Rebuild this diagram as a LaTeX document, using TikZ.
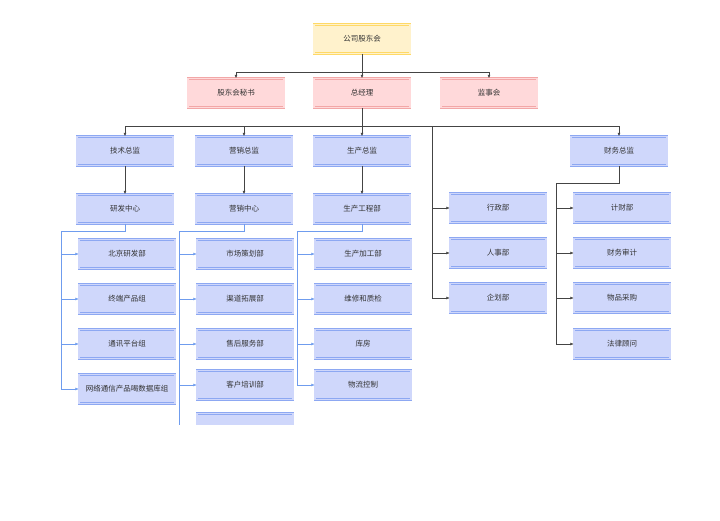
\documentclass[tikz,border=0pt]{standalone}
\usepackage{fontspec}
\setmainfont{Noto Sans CJK SC}
\usetikzlibrary{arrows.meta}
\definecolor{yf}{HTML}{FFF2CC}\definecolor{yb}{HTML}{FFD966}
\definecolor{pf}{HTML}{FFD9DA}\definecolor{pb}{HTML}{F2A7A7}
\definecolor{bf}{HTML}{CFD7FB}\definecolor{bb}{HTML}{8DA8F2}
\definecolor{bl}{HTML}{6F9CEE}\definecolor{gl}{HTML}{444444}
\begin{document}
\begin{tikzpicture}[x=1pt,y=-1pt,
 box/.style={minimum width=96pt,minimum height=29pt,inner sep=0pt,font=\fontsize{7.5}{9}\selectfont,text=black!80,line width=0.5pt,double distance=1.8pt},
 Y/.style={box,draw=yb,double=yf,fill=yf},
 P/.style={box,draw=pb,double=pf,fill=pf},
 B/.style={box,draw=bb,double=bf,fill=bf},
 k/.style={draw=gl,line width=0.6pt},
 ka/.style={k,-{Latex[length=3.5pt,width=3pt]}},
 b/.style={draw=bl,line width=0.6pt},
 ba/.style={b,-{Latex[length=3.5pt,width=3pt]}}]
\useasboundingbox (0,0) rectangle (720,520);
\begin{scope}
\clip (0,0) rectangle (720,424);
\node[Y] (gd) at (362,39) {公司股东会};
\node[P] (ms) at (236,93) {股东会秘书};
\node[P] (zj) at (362,93) {总经理};
\node[P] (js) at (489,93) {监事会};
\node[B] (jz) at (125,151) {技术总监};
\node[B] (yz) at (244,151) {营销总监};
\node[B] (sz) at (362,151) {生产总监};
\node[B] (cz) at (619,151) {财务总监};
\node[B] (yf) at (125,209) {研发中心};
\node[B] (yx) at (244,209) {营销中心};
\node[B] (sc) at (362,209) {生产工程部};
\node[B] (a1) at (127,254) {北京研发部};
\node[B] (a2) at (127,299) {终端产品组};
\node[B] (a3) at (127,344) {通讯平台组};
\node[B] (a4) at (127,389) {网络通信产品喝数据库组};
\node[B] (b1) at (245,254) {市场策划部};
\node[B] (b2) at (245,299) {渠道拓展部};
\node[B] (b3) at (245,344) {售后服务部};
\node[B] (b4) at (245,385) {客户培训部};
\node[B] (b5) at (245,428) {};
\node[B] (c1) at (363,254) {生产加工部};
\node[B] (c2) at (363,299) {维修和质检};
\node[B] (c3) at (363,344) {库房};
\node[B] (c4) at (363,385) {物流控制};
\node[B] (d1) at (498,208) {行政部};
\node[B] (d2) at (498,253) {人事部};
\node[B] (d3) at (498,298) {企划部};
\node[B] (e1) at (622,208) {计财部};
\node[B] (e2) at (622,253) {财务审计};
\node[B] (e3) at (622,298) {物品采购};
\node[B] (e4) at (622,344) {法律顾问};
% top
\draw[ka] (gd.south) -- (362,72) -| (ms.north);
\draw[ka] (362,72) -- (zj.north);
\draw[ka] (362,72) -| (js.north);
\draw[ka] (zj.south) -- (362,126) -| (jz.north);
\draw[ka] (362,126) -| (yz.north);
\draw[ka] (362,126) -- (sz.north);
\draw[ka] (362,126) -| (cz.north);
\draw[k] (362,126) -- (432,126) -- (432,298);
\foreach \n in {d1,d2,d3} \draw[ka] (432,0 |- \n.west) -- (\n.west);
\draw[ka] (jz.south) -- (yf.north);
\draw[ka] (yz.south) -- (yx.north);
\draw[ka] (sz.south) -- (sc.north);
\draw[k] (cz.south) -- (619,183) -- (556,183) -- (556,344);
\foreach \n in {e1,e2,e3,e4} \draw[ka] (556,0 |- \n.west) -- (\n.west);
% blue
\draw[b] (yf.south) -- (125,231) -- (61,231) -- (61,389);
\foreach \n in {a1,a2,a3,a4} \draw[ba] (61,0 |- \n.west) -- (\n.west);
\draw[b] (yx.south) -- (244,231) -- (179,231) -- (179,430);
\foreach \n in {b1,b2,b3,b4} \draw[ba] (179,0 |- \n.west) -- (\n.west);
\draw[b] (sc.south) -- (362,231) -- (297,231) -- (297,385);
\foreach \n in {c1,c2,c3,c4} \draw[ba] (297,0 |- \n.west) -- (\n.west);
\end{scope}
\end{tikzpicture}
\end{document}
